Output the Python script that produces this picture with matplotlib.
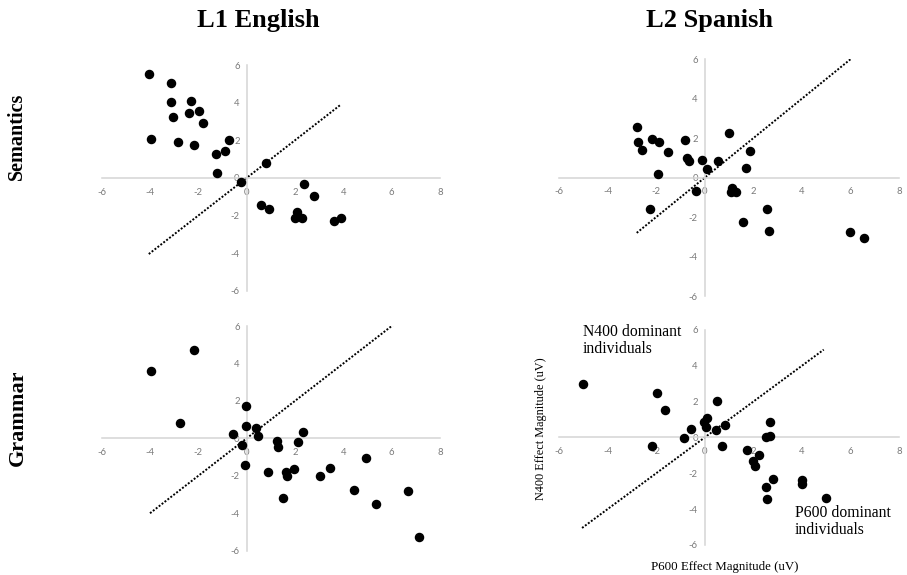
import matplotlib.pyplot as plt
import numpy as np

plt.rcParams["axes.unicode_minus"] = False

# P600 (x) and N400 (y) effect magnitudes, one point per participant
sem_l1_x = [-4.04, -3.13, -3.13, -2.30, -3.04, -2.38, -1.96, -1.79, -3.94, -2.84, -2.16, -1.27, -0.90,
            -0.73, -1.24, -0.25, 0.79, 2.38, 2.78, 0.58, 0.92, 2.09, 2.02, 2.30, 3.61, 3.91]
sem_l1_y = [5.51, 5.07, 4.01, 4.08, 3.26, 3.44, 3.55, 2.93, 2.07, 1.93, 1.76, 1.29, 1.42,
            2.00, 0.27, -0.21, 0.80, -0.32, -0.96, -1.45, -1.67, -1.81, -2.16, -2.16, -2.30, -2.16]

sem_l2_x = [-2.77, -2.74, -2.57, -2.16, -1.88, -1.52, -0.83, -0.71, -0.63, -0.12, 0.08, 0.56, 1.00,
            -1.92, -0.37, 1.12, 1.08, 1.27, 1.68, 1.88, -2.27, 1.57, 2.57, 2.63, 5.97, 6.54]
sem_l2_y = [2.57, 1.79, 1.40, 1.98, 1.81, 1.32, 1.91, 0.98, 0.84, 0.90, 0.44, 0.86, 2.25,
            0.20, -0.68, -0.51, -0.71, -0.71, 0.51, 1.35, -1.59, -2.26, -1.59, -2.69, -2.74, -3.04]

gram_l1_x = [-3.97, -2.17, -2.76, -0.04, -0.04, -0.55, 0.37, 0.48, -0.21, -0.07, 1.27, 1.30, 2.14,
             2.33, 0.88, 1.61, 1.66, 1.96, 1.50, 3.05, 3.46, 4.94, 4.43, 5.35, 6.69, 7.14]
gram_l1_y = [3.58, 4.72, 0.82, 1.74, 0.68, 0.23, 0.57, 0.11, -0.36, -1.41, -0.12, -0.46, -0.20,
             0.34, -1.80, -1.80, -2.01, -1.62, -3.20, -2.01, -1.60, -1.07, -2.78, -3.52, -2.81, -5.25]

gram_l2_x = [-5.01, -1.98, -1.65, -0.56, -0.87, -2.18, -0.03, 0.11, 0.04, 0.49, 0.46, 0.82, 0.72,
             1.73, 2.23, 1.98, 2.06, 2.69, 2.51, 2.70, 2.54, 2.58, 2.83, 4.01, 4.00, 4.98]
gram_l2_y = [2.98, 2.46, 1.55, 0.47, -0.04, -0.50, 0.89, 1.08, 0.61, 2.05, 0.43, 0.71, -0.47,
             -0.69, -0.97, -1.30, -1.62, 0.84, 0.04, 0.09, -2.74, -3.45, -2.33, -2.37, -2.59, -3.39]

# extent of the y = x reference line in each panel
diag_ranges = [(-4.05, 3.9), (-2.8, 6.0), (-4.0, 6.05), (-5.05, 4.9)]

x_ticks = np.arange(-6, 9, 2)
y_ticks = np.arange(-6, 7, 2)

fig = plt.figure(figsize=(9.07, 5.75), dpi=100)

boxes = [
    [0.1121, 0.4944, 0.3730, 0.3925],
    [0.6163, 0.4852, 0.3749, 0.4117],
    [0.1121, 0.0423, 0.3730, 0.3907],
    [0.6163, 0.0522, 0.3749, 0.3740],
]
panels = [(sem_l1_x, sem_l1_y), (sem_l2_x, sem_l2_y),
          (gram_l1_x, gram_l1_y), (gram_l2_x, gram_l2_y)]

for box, (px, py), (d0, d1) in zip(boxes, panels, diag_ranges):
    ax = fig.add_axes(box)
    ax.set_xlim(-6, 8)
    ax.set_ylim(-6, 6)
    ax.patch.set_alpha(0)
    for side in ("top", "right"):
        ax.spines[side].set_visible(False)
    for side in ("left", "bottom"):
        ax.spines[side].set_position(("data", 0))
        ax.spines[side].set_color("#d4d4d4")
        ax.spines[side].set_linewidth(1.1)
    ax.set_xticks(x_ticks)
    ax.set_yticks(y_ticks)
    ax.tick_params(length=0, labelsize=6.8, labelcolor="#7a7a7a")
    ax.tick_params(axis="x", pad=7)
    ax.tick_params(axis="y", pad=5)
    for lab in ax.get_xticklabels() + ax.get_yticklabels():
        lab.set_family("Lato")
    diag = np.array([d0, d1])
    ax.plot(diag, diag, color="black", linestyle=(0, (1, 0.9)), lw=1.4, zorder=2)
    ax.scatter(px, py, s=34, color="black", zorder=3, clip_on=False)

serif = "Liberation Serif"
fig.text(0.2845, 0.965, "L1 English", family=serif, weight="bold", fontsize=19, ha="center", va="center")
fig.text(0.7817, 0.965, "L2 Spanish", family=serif, weight="bold", fontsize=19, ha="center", va="center")
fig.text(0.0187, 0.7635, "Semantics", family=serif, weight="bold", fontsize=14.5, rotation=90,
         ha="center", va="center")
fig.text(0.0198, 0.274, "Grammar", family=serif, weight="bold", fontsize=16, rotation=90,
         ha="center", va="center")

fig.text(0.5965, 0.2539, "N400 Effect Magnitude (uV)", family=serif, fontsize=8.8, rotation=90,
         ha="center", va="center")
fig.text(0.7993, 0.0144, "P600 Effect Magnitude (uV)", family=serif, fontsize=9.3,
         ha="center", va="center")
fig.text(0.6428, 0.4370, "N400 dominant\nindividuals", family=serif, fontsize=11.3,
         ha="left", va="top", linespacing=1.1)
fig.text(0.8765, 0.1220, "P600 dominant\nindividuals", family=serif, fontsize=11.3,
         ha="left", va="top", linespacing=1.1)

fig.savefig("out.png", dpi=100)
